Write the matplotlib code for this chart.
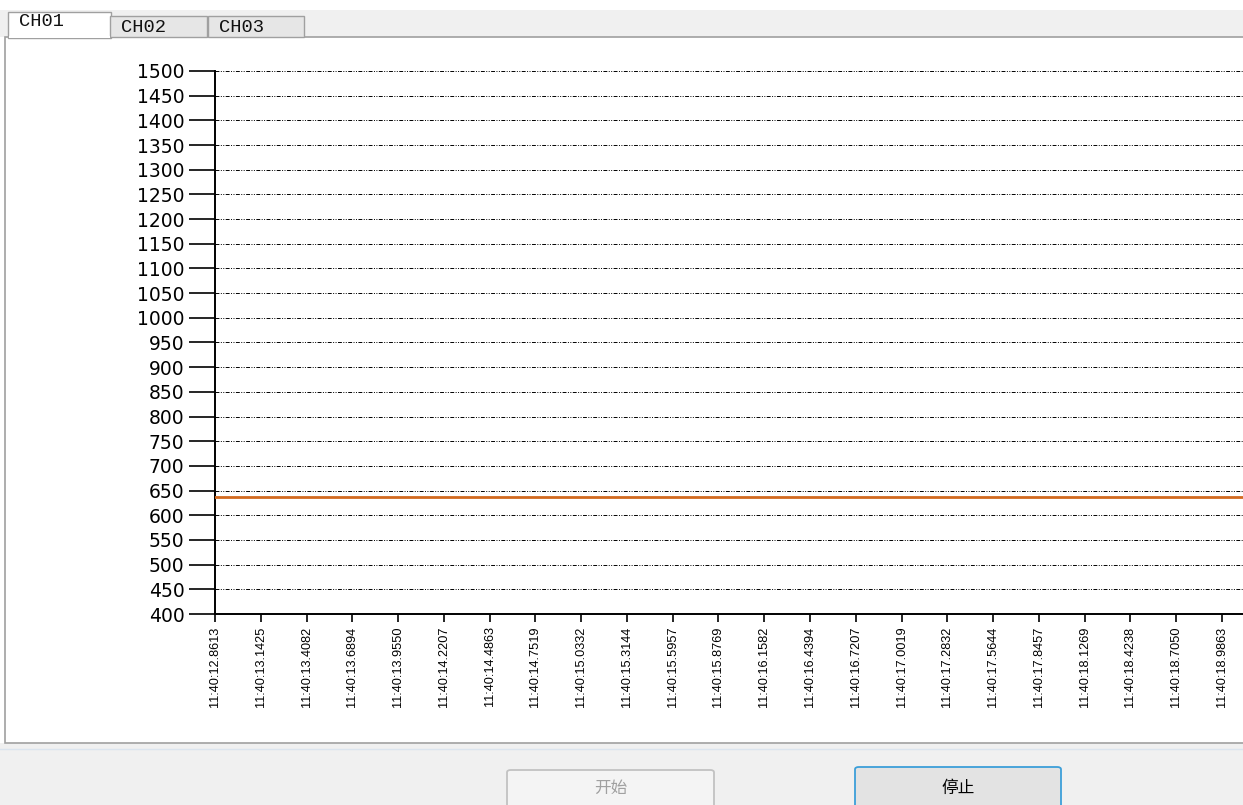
import matplotlib.pyplot as plt
from matplotlib.patches import Rectangle, FancyBboxPatch

W, H = 1243, 805

# data
times = ['11:40:12.8613', '11:40:13.1425', '11:40:13.4082', '11:40:13.6894',
         '11:40:13.9550', '11:40:14.2207', '11:40:14.4863', '11:40:14.7519',
         '11:40:15.0332', '11:40:15.3144', '11:40:15.5957', '11:40:15.8769',
         '11:40:16.1582', '11:40:16.4394', '11:40:16.7207', '11:40:17.0019',
         '11:40:17.2832', '11:40:17.5644', '11:40:17.8457', '11:40:18.1269',
         '11:40:18.4238', '11:40:18.7050', '11:40:18.9863']
# the series runs on past the last labelled sample (off the right edge)
values = [638] * (len(times) + 1)
y_ticks = list(range(400, 1501, 50))
tabs = ['CH01', 'CH02', 'CH03']
buttons = ['开始', '停止']


def fx(x):
    return x / W


def fy(y):
    return 1 - y / H


fig = plt.figure(figsize=(W / 100, H / 100), dpi=100)
fig.patch.set_facecolor('white')

# window chrome: top strip, tab panel, bottom strip
fig.add_artist(Rectangle((0, fy(37)), 1, fy(10) - fy(37), transform=fig.transFigure,
                         facecolor='#f0f0f0', edgecolor='none', zorder=-5))
fig.add_artist(Rectangle((0, 0), 1, fy(743), transform=fig.transFigure,
                         facecolor='#f0f0f0', edgecolor='none', zorder=-5))
fig.add_artist(Rectangle((fx(5), fy(743)), 1.01, fy(37) - fy(743), transform=fig.transFigure,
                         facecolor='white', edgecolor='#a0a0a0', lw=1.2, zorder=-4))
fig.add_artist(plt.Line2D([0, 1], [fy(749), fy(749)], transform=fig.transFigure,
                          color='#dbe4ee', lw=1, zorder=-3))

# tabs
tab_boxes = [(8, 12, 103, 26), (110, 16, 97, 21), (208, 16, 96, 21)]
for i, (name, (x, y, w, h)) in enumerate(zip(tabs, tab_boxes)):
    fc = 'white' if i == 0 else '#e6e6e6'
    fig.text(fx(x + 11), fy(y + (10 if i == 0 else 11)), name, family='Liberation Mono',
             fontsize=13.5, va='center', ha='left', color='#111111')
    fig.add_artist(Rectangle((fx(x), fy(y + h)), w / W, h / H, transform=fig.transFigure,
                             facecolor=fc, edgecolor='#a0a0a0', lw=1, zorder=-3))
fig.add_artist(Rectangle((fx(9), fy(38.5)), 101 / W, 2 / H, transform=fig.transFigure,
                         facecolor='white', edgecolor='none', zorder=-2))

# buttons
btn_boxes = [(507, 770, 207, 40), (855, 767, 206, 42)]
btn_style = [('#f4f4f4', '#c2c2c2', '#a0a0a0'), ('#e3e3e3', '#3c9fd9', '#000000')]
for name, (x, y, w, h), (fc, ec, tc) in zip(buttons, btn_boxes, btn_style):
    fig.add_artist(FancyBboxPatch((fx(x), fy(y + h)), w / W, h / H, transform=fig.transFigure,
                                  boxstyle='round,pad=0,rounding_size=0.003',
                                  facecolor=fc, edgecolor=ec, lw=1.3, zorder=-3))
    fig.text(fx(x + w / 2), fy(788), name, family=['Noto Sans CJK SC', 'DejaVu Sans'],
             fontsize=12, ha='center', va='center', color=tc)

# chart
ax = fig.add_axes([fx(215), fy(614), 1 - fx(215), fy(71) - fy(614)])
ax.set_zorder(5)
ax.set_facecolor('none')
ax.plot(range(len(values)), values, color='#d2691e', lw=2, zorder=3)
ax.set_xlim(0, 22.46)
ax.set_ylim(400, 1500)
ax.set_yticks(y_ticks)
ax.set_yticklabels([str(v) for v in y_ticks], family='DejaVu Sans', fontsize=13.5)
ax.set_xticks(range(len(times)))
ax.set_xticklabels(times, rotation=90, family='Liberation Sans', fontsize=9.2, va='top')
for v in y_ticks[1:]:
    ax.axhline(v, color='black', lw=0.7, ls=(0, (4, 1.5, 1, 1.5, 1, 1.5)), zorder=1)
ax.tick_params(axis='y', length=19, width=1.2, pad=3)
ax.tick_params(axis='x', length=6, width=1.2, pad=3)
for s in ['top', 'right']:
    ax.spines[s].set_visible(False)
for s in ['left', 'bottom']:
    ax.spines[s].set_linewidth(1.4)

plt.savefig('out.png', dpi=100)
